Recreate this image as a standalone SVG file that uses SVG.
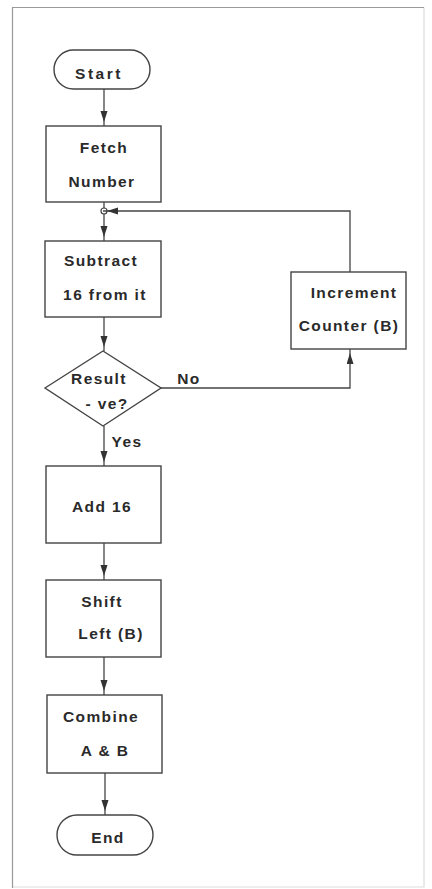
<svg xmlns="http://www.w3.org/2000/svg" width="432" height="889" viewBox="0 0 432 889">
<style>
.frame{fill:none;stroke:#999;stroke-width:1.2}
.frame2{fill:none;stroke:#ddd;stroke-width:1.2}
.box{fill:#fff;stroke:#444;stroke-width:1.4}
.t{font-family:"Liberation Sans",Arial,sans-serif;font-weight:bold;font-size:15.5px;letter-spacing:1.4px;fill:#2a2a2a;text-anchor:middle}
.c{fill:none;stroke:#444;stroke-width:1.3}
</style>
<defs>
<marker id="ah" markerUnits="userSpaceOnUse" markerWidth="18" markerHeight="8" refX="15" refY="3.5" orient="auto">
<path d="M0,0 L11,3.5 L0,7 z" fill="#333"/>
</marker>
</defs>
<rect width="432" height="889" fill="#fff"/>
<path class="frame2" d="M424,7.5 V887 H12.5"/>
<path class="frame" d="M12.5,888 V7.5 H424"/>
<g id="connectors">
<line class="c" x1="104" y1="89" x2="104" y2="126" marker-end="url(#ah)"/>
<line class="c" x1="104" y1="202" x2="104" y2="208"/>
<circle cx="104" cy="211" r="3" fill="#fff" stroke="#444" stroke-width="1.2"/>
<line class="c" x1="104" y1="214" x2="104" y2="241" marker-end="url(#ah)"/>
<line class="c" x1="104" y1="317" x2="104" y2="351" marker-end="url(#ah)"/>
<line class="c" x1="104" y1="426" x2="104" y2="466" marker-end="url(#ah)"/>
<line class="c" x1="104" y1="543" x2="104" y2="580" marker-end="url(#ah)"/>
<line class="c" x1="104" y1="657" x2="104" y2="695" marker-end="url(#ah)"/>
<line class="c" x1="105" y1="773" x2="105" y2="815" marker-end="url(#ah)"/>
<polyline class="c" points="161,388 350,388 350,349" marker-end="url(#ah)"/>
<polyline class="c" points="350,272 350,211 103,211" marker-end="url(#ah)"/>
<text class="t" x="189" y="384">No</text>
<text class="t" x="127" y="447">Yes</text>
</g>
<g id="start">
<rect class="box" x="54" y="50" width="96" height="39" rx="19.5"/>
<text class="t" x="99" y="79" style="letter-spacing:2.5px">Start</text>
</g>
<g id="fetch">
<rect class="box" x="46" y="126" width="115" height="76"/>
<text class="t" x="104" y="153">Fetch</text>
<text class="t" x="102" y="187">Number</text>
</g>
<g id="subtract">
<rect class="box" x="45" y="241" width="116" height="76"/>
<text class="t" x="101" y="266">Subtract</text>
<text class="t" x="105" y="300">16 from it</text>
</g>
<g id="decision">
<polygon class="box" points="45,388 103,351 161,388 103,426"/>
<text class="t" x="99" y="384">Result</text>
<text class="t" x="107" y="409">- ve?</text>
</g>
<g id="increment">
<rect class="box" x="291" y="272" width="115" height="77"/>
<text class="t" x="354" y="298">Increment</text>
<text class="t" x="349" y="331">Counter (B)</text>
</g>
<g id="add16">
<rect class="box" x="46" y="466" width="115" height="77"/>
<text class="t" x="102" y="512">Add 16</text>
</g>
<g id="shift">
<rect class="box" x="46" y="580" width="115" height="77"/>
<text class="t" x="102" y="607">Shift</text>
<text class="t" x="111" y="639">Left (B)</text>
</g>
<g id="combine">
<rect class="box" x="47" y="695" width="115" height="78"/>
<text class="t" x="101" y="722">Combine</text>
<text class="t" x="105" y="756">A &amp; B</text>
</g>
<g id="end">
<rect class="box" x="57" y="815" width="96" height="40" rx="20"/>
<text class="t" x="108" y="843">End</text>
</g>
</svg>
